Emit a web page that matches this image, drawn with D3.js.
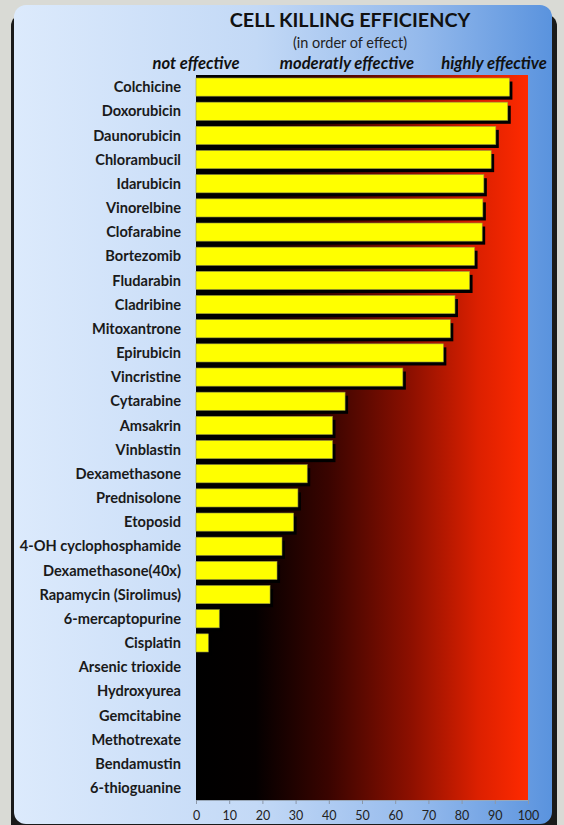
<!DOCTYPE html>
<html>
<head>
<meta charset="utf-8">
<script src="https://cdn.jsdelivr.net/npm/d3@7"></script>
<style>
  body { margin: 0; background: #d9dad5; }
  svg { display: block; }
</style>
</head>
<body>
<div id="chart"></div>
<script>
// Drugs, top to bottom (in order of effect)
const drugs = [
  "Colchicine", "Doxorubicin", "Daunorubicin", "Chlorambucil", "Idarubicin",
  "Vinorelbine", "Clofarabine", "Bortezomib", "Fludarabin", "Cladribine",
  "Mitoxantrone", "Epirubicin", "Vincristine", "Cytarabine", "Amsakrin",
  "Vinblastin", "Dexamethasone", "Prednisolone", "Etoposid", "4-OH cyclophosphamide",
  "Dexamethasone(40x)", "Rapamycin (Sirolimus)", "6-mercaptopurine", "Cisplatin",
  "Arsenic trioxide", "Hydroxyurea", "Gemcitabine", "Methotrexate", "Bendamustin",
  "6-thioguanine"
];
// Cell killing efficiency (%)
const efficiency = [
  94.4, 93.9, 90.3, 88.9, 86.7,
  86.4, 86.2, 83.9, 82.4, 78.0,
  76.6, 74.5, 62.3, 44.9, 41.1,
  41.1, 33.5, 30.7, 29.4, 25.9,
  24.4, 22.3, 7.0, 3.7,
  0, 0, 0, 0, 0,
  0
];
const xTicks = [0, 10, 20, 30, 40, 50, 60, 70, 80, 90, 100];
const effectLabels = ["not effective", "moderatly effective", "highly effective"];
const effectX = [196, 347, 494];

const data = drugs.map((d, i) => ({ name: d, value: efficiency[i] }));

const W = 564, H = 825;
const plot = { left: 196, right: 528, top: 75, bottom: 800 };
const font = "Lato, 'Open Sans', sans-serif";

const svg = d3.select("#chart").append("svg")
  .attr("width", W).attr("height", H);

const defs = svg.append("defs");

// panel gradient (light blue -> blue)
const pg = defs.append("linearGradient").attr("id", "panelGrad")
  .attr("x1", "0%").attr("x2", "100%").attr("y1", "0%").attr("y2", "0%");
pg.append("stop").attr("offset", "0%").attr("stop-color", "#dceafc");
pg.append("stop").attr("offset", "45%").attr("stop-color", "#c3d9f6");
pg.append("stop").attr("offset", "75%").attr("stop-color", "#95baec");
pg.append("stop").attr("offset", "100%").attr("stop-color", "#5a93de");

// plot gradient (black -> red)
const rg = defs.append("linearGradient").attr("id", "plotGrad")
  .attr("x1", "0%").attr("x2", "100%").attr("y1", "0%").attr("y2", "0%");
rg.append("stop").attr("offset", "0%").attr("stop-color", "#000000");
rg.append("stop").attr("offset", "18%").attr("stop-color", "#040000");
rg.append("stop").attr("offset", "40%").attr("stop-color", "#3a0400");
rg.append("stop").attr("offset", "65%").attr("stop-color", "#8e1000");
rg.append("stop").attr("offset", "85%").attr("stop-color", "#dc2000");
rg.append("stop").attr("offset", "100%").attr("stop-color", "#ff2a00");

// panel with dark edge behind
svg.append("rect")
  .attr("x", 11).attr("y", 14).attr("width", 546).attr("height", 830)
  .attr("rx", 12).attr("fill", "#1a1a1a");
svg.append("rect")
  .attr("x", 14).attr("y", 5).attr("width", 538).attr("height", 819)
  .attr("rx", 12).attr("fill", "url(#panelGrad)");

// Scales
const x = d3.scaleLinear().domain([0, 100]).range([plot.left, plot.right]);
const y = d3.scaleBand().domain(drugs)
  .range([plot.top, plot.bottom]).paddingInner(0.25).paddingOuter(0.125);

// plot background
svg.append("rect")
  .attr("x", x(0)).attr("y", plot.top)
  .attr("width", x(100) - x(0)).attr("height", plot.bottom - plot.top)
  .attr("fill", "url(#plotGrad)");

// Titles
svg.append("text")
  .attr("x", 350).attr("y", 27)
  .attr("text-anchor", "middle")
  .style("font-family", font)
  .style("font-weight", "bold").style("font-size", "19.8px")
  .style("fill", "#111")
  .text("CELL KILLING EFFICIENCY");

svg.append("text")
  .attr("x", 350).attr("y", 48)
  .attr("text-anchor", "middle")
  .style("font-family", font)
  .style("font-size", "14.5px")
  .style("fill", "#222")
  .text("(in order of effect)");

svg.selectAll(".effect")
  .data(effectLabels)
  .enter().append("text")
  .attr("class", "effect")
  .attr("x", (d, i) => effectX[i])
  .attr("y", 69)
  .attr("text-anchor", "middle")
  .style("font-family", font)
  .style("font-weight", "bold").style("font-style", "italic")
  .style("font-size", "16.6px")
  .style("fill", "#111")
  .text(d => d);

// Bar shadows
svg.selectAll(".shadow")
  .data(data.filter(d => d.value > 0))
  .enter().append("rect")
  .attr("class", "shadow")
  .attr("x", x(0) + 3)
  .attr("y", d => y(d.name) + 3.5)
  .attr("width", d => x(d.value) - x(0))
  .attr("height", y.bandwidth())
  .attr("fill", "#000");

// Bars
svg.selectAll(".bar")
  .data(data.filter(d => d.value > 0))
  .enter().append("rect")
  .attr("class", "bar")
  .attr("x", x(0))
  .attr("y", d => y(d.name))
  .attr("width", d => x(d.value) - x(0))
  .attr("height", y.bandwidth())
  .attr("fill", "#ffff00")
  .attr("stroke", "#9a9a40")
  .attr("stroke-width", 0.6);

// Category labels
svg.selectAll(".label")
  .data(data)
  .enter().append("text")
  .attr("class", "label")
  .attr("x", 181)
  .attr("y", d => y(d.name) + y.bandwidth() / 2)
  .attr("dy", "0.35em")
  .attr("text-anchor", "end")
  .style("font-family", font)
  .style("font-weight", "bold").style("font-size", "14.6px")
  .style("fill", "#1a1a1a")
  .text(d => d.name);

// X axis
const xAxis = svg.append("g")
  .attr("transform", `translate(0,${plot.bottom})`)
  .call(d3.axisBottom(x).tickValues(xTicks).tickSize(4).tickPadding(7));
xAxis.select(".domain").attr("stroke", "#9aa8b8");
xAxis.selectAll(".tick line").attr("stroke", "#8c98a8");
xAxis.selectAll("text")
  .style("font-family", font)
  .style("font-size", "12.5px")
  .style("fill", "#222");
</script>
</body>
</html>
